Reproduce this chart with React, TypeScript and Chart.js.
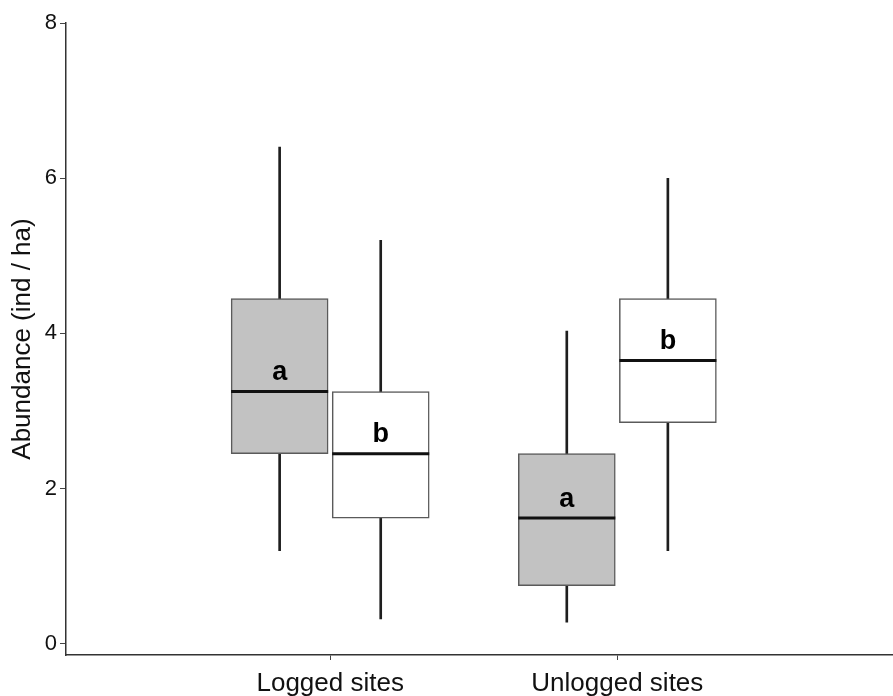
import React, { useEffect, useRef } from "react";
import { Chart, registerables } from "chart.js";
Chart.register(...registerables);

// ---- data ----
const categories = ["Logged sites", "Unlogged sites"];
const yTicks = [0, 2, 4, 6, 8];
// each box: [min, q1, median, q3, max]
const greyBoxes = [
  [1.2, 2.45, 3.25, 4.45, 6.4],
  [0.28, 0.75, 1.62, 2.45, 4.03],
];
const whiteBoxes = [
  [0.32, 1.62, 2.45, 3.25, 5.2],
  [1.2, 2.85, 3.65, 4.45, 6.0],
];
const greyLetters = ["a", "a"];
const whiteLetters = ["b", "b"];
const yTitle = "Abundance (ind / ha)";

// ---- layout ----
const OFFSET = 0.176; // box centre offset from category (x units)
const HALF = 0.169; // half box width (x units)
const BOX_PX = 97;
const FONT = '"Liberation Sans", Arial, sans-serif';

export default function App() {
  const ref = useRef<HTMLCanvasElement | null>(null);

  useEffect(() => {
    if (!ref.current) return;
    const gx = (i: number) => i + 1 - OFFSET;
    const wx = (i: number) => i + 1 + OFFSET;

    const whiskers = [
      ...greyBoxes.map((b, i) => ({ x: gx(i), y: [b[0], b[4]] })),
      ...whiteBoxes.map((b, i) => ({ x: wx(i), y: [b[0], b[4]] })),
    ];
    const medians: any[] = [];
    greyBoxes.forEach((b, i) => {
      medians.push({ x: gx(i) - HALF, y: b[2] }, { x: gx(i) + HALF, y: b[2] }, { x: gx(i) + HALF, y: null });
    });
    whiteBoxes.forEach((b, i) => {
      medians.push({ x: wx(i) - HALF, y: b[2] }, { x: wx(i) + HALF, y: b[2] }, { x: wx(i) + HALF, y: null });
    });

    const letters = {
      id: "letters",
      afterDatasetsDraw(chart: any) {
        const { ctx, scales } = chart;
        ctx.save();
        ctx.font = `bold 27px ${FONT}`;
        ctx.fillStyle = "#000";
        ctx.textAlign = "center";
        ctx.textBaseline = "alphabetic";
        greyBoxes.forEach((b, i) => {
          ctx.fillText(greyLetters[i], scales.x.getPixelForValue(gx(i)), scales.y.getPixelForValue(b[2]) - 11.5);
        });
        whiteBoxes.forEach((b, i) => {
          ctx.fillText(whiteLetters[i], scales.x.getPixelForValue(wx(i)), scales.y.getPixelForValue(b[2]) - 11.5);
        });
        ctx.restore();
      },
    };

    const chart = new Chart(ref.current, {
      type: "bar",
      data: {
        datasets: [
          {
            type: "bar",
            data: whiskers as any,
            backgroundColor: "#1e1e1e",
            barThickness: 2,
            grouped: false,
            order: 3,
          } as any,
          {
            type: "bar",
            data: greyBoxes.map((b, i) => ({ x: gx(i), y: [b[1], b[3]] })) as any,
            backgroundColor: "#c2c2c2",
            borderColor: "#5a5a5a",
            borderWidth: 1.5,
            borderSkipped: false,
            barThickness: BOX_PX,
            grouped: false,
            order: 2,
          } as any,
          {
            type: "bar",
            data: whiteBoxes.map((b, i) => ({ x: wx(i), y: [b[1], b[3]] })) as any,
            backgroundColor: "#ffffff",
            borderColor: "#5a5a5a",
            borderWidth: 1.5,
            borderSkipped: false,
            barThickness: BOX_PX,
            grouped: false,
            order: 2,
          } as any,
          {
            type: "line",
            data: medians,
            borderColor: "#111",
            borderWidth: 3,
            pointRadius: 0,
            spanGaps: false,
            borderCapStyle: "butt",
            order: 1,
          } as any,
        ],
      },
      options: {
        animation: false,
        responsive: false,
        layout: { padding: { top: 23, right: 0, left: 0, bottom: 0 } },
        plugins: { legend: { display: false }, tooltip: { enabled: false } },
        scales: {
          x: {
            type: "linear",
            min: 0.08,
            max: 2.96,
            offset: false,
            afterBuildTicks: (s: any) => {
              s.ticks = categories.map((_, i) => ({ value: i + 1 }));
            },
            afterFit: (s: any) => {
              s.height = 41;
            },
            grid: { display: true, offset: false, drawOnChartArea: false, drawTicks: true, tickLength: 5, tickColor: "#444", tickWidth: 1 },
            border: { display: true, color: "#333", width: 1.5 },
            ticks: {
              callback: (v: any) => categories[Math.round(v) - 1] ?? "",
              font: { size: 26, family: FONT },
              color: "#111",
              padding: 8,
              maxRotation: 0,
              autoSkip: false,
            },
          },
          y: {
            type: "linear",
            min: -0.144,
            max: 8,
            afterBuildTicks: (s: any) => {
              s.ticks = yTicks.map((v) => ({ value: v }));
            },
            afterFit: (s: any) => {
              s.width = 66;
            },
            grid: { display: true, drawOnChartArea: false, drawTicks: true, tickLength: 6, tickColor: "#444", tickWidth: 1 },
            border: { display: true, color: "#333", width: 1.5 },
            ticks: {
              font: { size: 22, family: FONT },
              color: "#111",
              padding: 3,
            },
            title: {
              display: true,
              text: yTitle,
              font: { size: 26, family: FONT },
              color: "#111",
              padding: { top: 7, bottom: 0 },
            },
          },
        },
      },
      plugins: [letters],
    });
    return () => chart.destroy();
  }, []);

  return (
    <div style={{ position: "absolute", left: 0, top: 0, width: 893, height: 696, background: "#fff" }}>
      <canvas ref={ref} width={893} height={696} />
    </div>
  );
}
